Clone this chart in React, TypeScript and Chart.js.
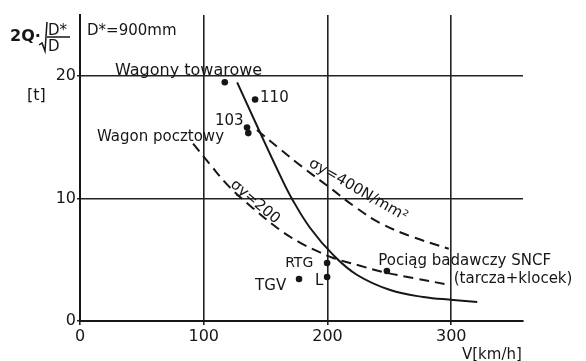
import React, { useEffect, useRef } from "react";
import { Chart, registerables } from "chart.js";

Chart.register(...registerables);

// ---- data ----
const xTicks = [0, 100, 200, 300];
const yTicks = [0, 10, 20];

// solid limit curve
const solidV = [127, 145.5, 161.7, 171.4, 186, 204.6, 224, 250.7, 277.4, 301.6, 321];
const solidQ = [19.5, 15.4, 11.9, 9.97, 7.6, 5.4, 3.76, 2.53, 1.96, 1.72, 1.55];

// dashed curve sigma_y = 400 N/mm2
const s400V = [143, 161.7, 179.5, 202.2, 222.4, 242.6, 266.8, 298];
const s400Q = [15.6, 14.05, 12.6, 10.87, 9.31, 8.0, 6.94, 5.9];

// dashed curve sigma_y = 200
const s200V = [91.4, 105, 121.3, 140, 161.7, 177, 194, 204.6, 225, 245, 270, 299];
const s200Q = [14.5, 12.8, 10.9, 9.2, 7.43, 6.45, 5.6, 5.15, 4.55, 4.0, 3.5, 2.94];

// measured vehicles
const pointNames = ["Wagony towarowe", "110", "103a", "103b", "RTG", "L", "TGV", "SNCF"];
const pointV = [117, 141.5, 135, 136, 199.7, 199.7, 177, 248];
const pointQ = [19.5, 18.1, 15.8, 15.35, 4.74, 3.6, 3.43, 4.08];

const FONT = "'DejaVu Sans', sans-serif";
const INK = "#161616";

type Label = { text: string; v: number; q: number; size: number; angle?: number };

const labels: Label[] = [
  { text: "Wagony towarowe", v: 28.3, q: 20.1, size: 16 },
  { text: "110", v: 145.5, q: 17.9, size: 15 },
  { text: "103", v: 109, q: 16.0, size: 15 },
  { text: "Wagon pocztowy", v: 13.7, q: 14.7, size: 15 },
  { text: "Pociąg badawczy SNCF", v: 241, q: 4.58, size: 15 },
  { text: "(tarcza+klocek)", v: 302, q: 3.1, size: 15 },
  { text: "RTG", v: 165.8, q: 4.41, size: 14 },
  { text: "TGV", v: 141.5, q: 2.53, size: 15 },
  { text: "L", v: 190, q: 2.94, size: 15 },
  { text: "D*=900mm", v: 5.7, q: 23.4, size: 15 },
];

const rotLabels: Label[] = [
  { text: "σy=200", v: 141.5, q: 9.72, size: 15, angle: 40 },
  { text: "σy=400N/mm²", v: 224.8, q: 10.7, size: 15, angle: 30 },
];

const toXY = (vs: number[], qs: number[]) => vs.map((v, i) => ({ x: v, y: qs[i] }));

const textPlugin = {
  id: "texts",
  afterDraw(chart: any) {
    const ctx = chart.ctx as CanvasRenderingContext2D;
    const xs = chart.scales.x;
    const ys = chart.scales.y;
    ctx.save();
    ctx.fillStyle = INK;
    ctx.strokeStyle = INK;
    ctx.textAlign = "left";
    ctx.textBaseline = "alphabetic";
    for (const l of labels) {
      ctx.font = `${l.size}px ${FONT}`;
      ctx.fillText(l.text, xs.getPixelForValue(l.v), ys.getPixelForValue(l.q));
    }
    for (const l of rotLabels) {
      ctx.save();
      ctx.font = `${l.size}px ${FONT}`;
      ctx.translate(xs.getPixelForValue(l.v), ys.getPixelForValue(l.q));
      ctx.rotate(((l.angle || 0) * Math.PI) / 180);
      ctx.textAlign = "center";
      ctx.textBaseline = "middle";
      ctx.fillText(l.text, 0, 0);
      ctx.restore();
    }
    // y-axis title: 2Q·sqrt(D*/D)
    const left = chart.chartArea.left;
    const top = chart.chartArea.top;
    ctx.font = `bold 16px ${FONT}`;
    ctx.fillText("2Q·", left - 70, top + 26);
    ctx.lineWidth = 1.5;
    ctx.beginPath();
    ctx.moveTo(left - 41, top + 30);
    ctx.lineTo(left - 38, top + 28);
    ctx.lineTo(left - 35, top + 36);
    ctx.lineTo(left - 33, top + 7);
    ctx.stroke();
    ctx.font = `15px ${FONT}`;
    ctx.fillText("D*", left - 32, top + 20);
    ctx.beginPath();
    ctx.moveTo(left - 33, top + 22);
    ctx.lineTo(left - 10, top + 22);
    ctx.stroke();
    ctx.fillText("D", left - 32, top + 36);
    ctx.font = `16px ${FONT}`;
    ctx.fillText("[t]", left - 53, top + 85);
    // x-axis title
    ctx.font = `15px ${FONT}`;
    ctx.fillText("V[km/h]", chart.chartArea.right - 61, chart.chartArea.bottom + 38);
    ctx.restore();
  },
};

export default function App() {
  const ref = useRef<HTMLCanvasElement | null>(null);
  useEffect(() => {
    if (!ref.current) return;
    const lineDs = (data: any, dash: number[]) => ({
      type: "scatter" as const,
      data,
      showLine: true,
      borderColor: INK,
      borderWidth: 2,
      borderDash: dash,
      pointRadius: 0,
      tension: 0.4,
      fill: false,
    });
    const chart = new Chart(ref.current, {
      type: "scatter",
      data: {
        datasets: [
          lineDs(toXY(solidV, solidQ), []),
          lineDs(toXY(s400V, s400Q), [10, 6]),
          lineDs(toXY(s200V, s200Q), [10, 6]),
          {
            type: "scatter",
            label: "points",
            data: toXY(pointV, pointQ).map((p, i) => ({ ...p, name: pointNames[i] })),
            pointRadius: 3.3,
            pointBackgroundColor: INK,
            pointBorderWidth: 0,
            showLine: false,
          } as any,
        ],
      },
      options: {
        animation: false,
        responsive: false,
        layout: { padding: { left: 0, top: 15, right: 63, bottom: 0 } },
        plugins: { legend: { display: false }, tooltip: { enabled: false } },
        scales: {
          x: {
            type: "linear",
            min: 0,
            max: 358,
            afterBuildTicks: (s: any) => {
              s.ticks = xTicks.map((v) => ({ value: v }));
            },
            afterFit: (s: any) => {
              s.height = 40;
            },
            grid: { color: "#222", lineWidth: 1.6, tickLength: 4 },
            border: { color: INK, width: 2 },
            ticks: { color: INK, font: { family: FONT, size: 16 }, padding: 2, maxRotation: 0, autoSkip: false },
          },
          y: {
            type: "linear",
            min: 0,
            max: 25,
            afterBuildTicks: (s: any) => {
              s.ticks = yTicks.map((v) => ({ value: v }));
            },
            afterFit: (s: any) => {
              s.width = 80;
            },
            grid: { color: "#222", lineWidth: 1.6, tickLength: 3 },
            border: { color: INK, width: 2 },
            ticks: { color: INK, font: { family: FONT, size: 16 }, padding: 1, autoSkip: false },
          },
        },
      },
      plugins: [textPlugin],
    });
    return () => chart.destroy();
  }, []);
  return (
    <div style={{ position: "fixed", left: 0, top: 0, width: 586, height: 361, background: "#fff" }}>
      <canvas ref={ref} width={586} height={361} style={{ display: "block" }} />
    </div>
  );
}
